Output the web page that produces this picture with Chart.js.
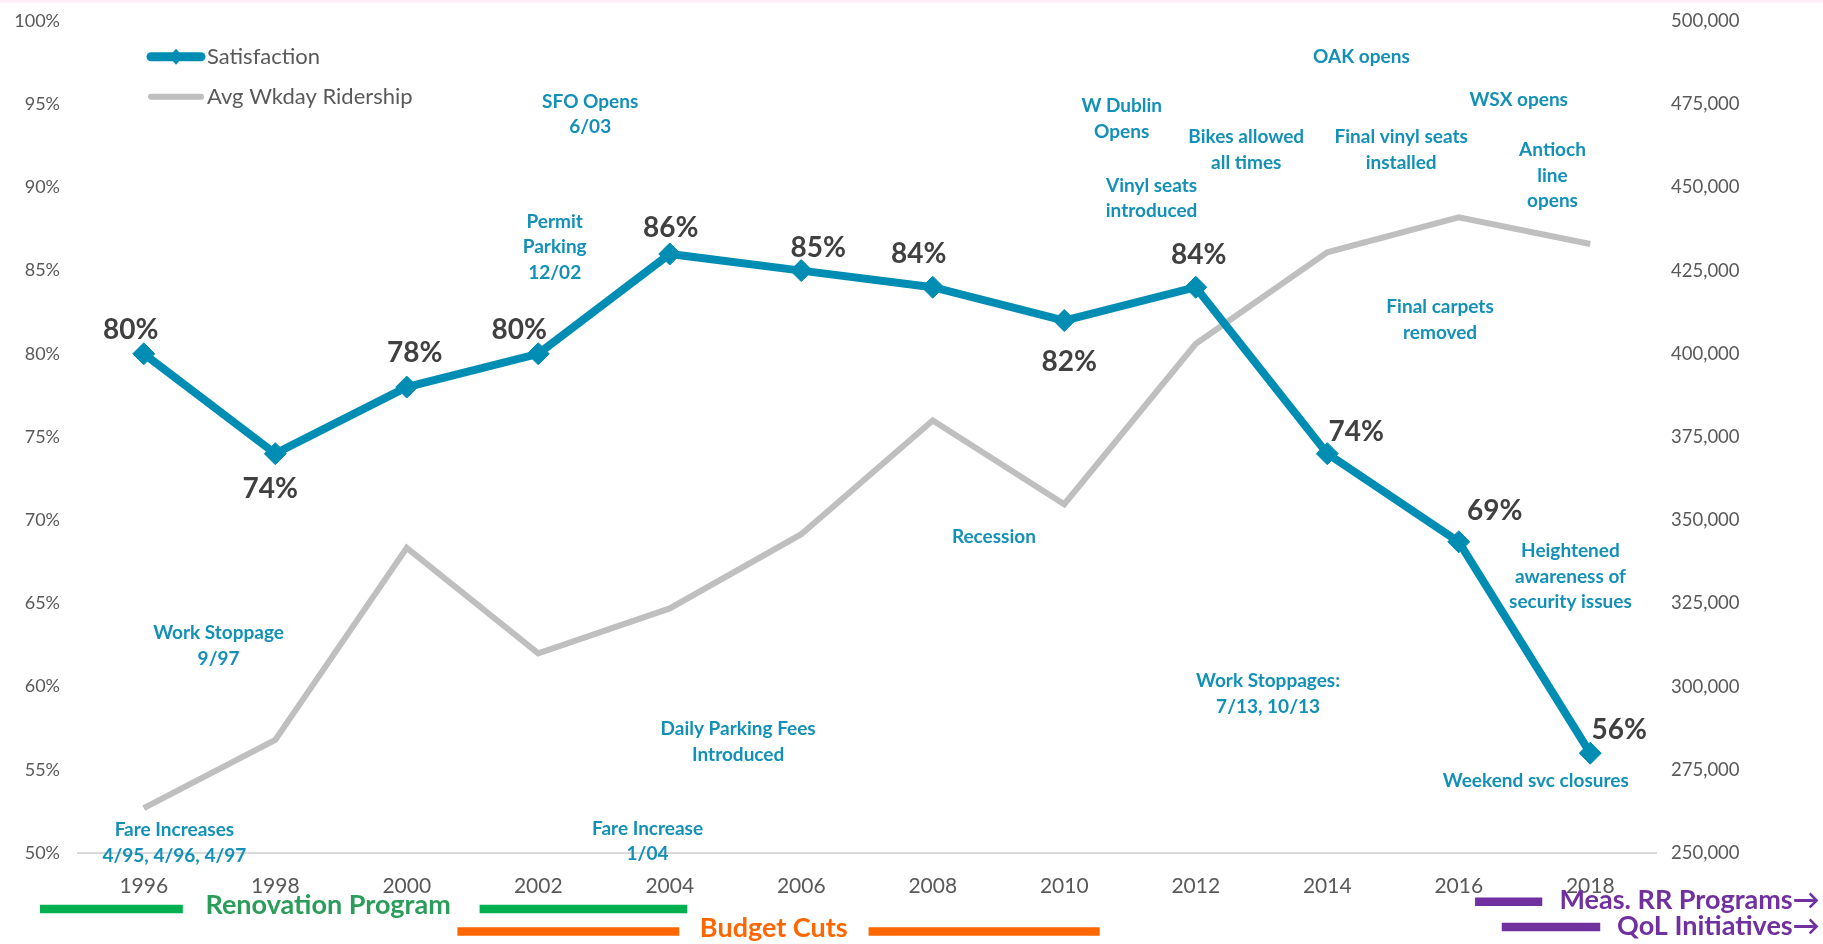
<!DOCTYPE html>
<html>
<head>
<meta charset="utf-8">
<script src="https://cdn.jsdelivr.net/npm/chart.js@4.4.1/dist/chart.umd.min.js"></script>
<style>
  html, body { margin: 0; padding: 0; background: #ffffff; overflow: hidden; }
  #wrap { position: relative; width: 1823px; height: 944px; }
  canvas { display: block; }
</style>
</head>
<body>
<div id="wrap"><canvas id="c" width="1823" height="944"></canvas></div>
<script>
// ---------- DATA ----------
const years = ['1996','1998','2000','2002','2004','2006','2008','2010','2012','2014','2016','2018'];
const satisfaction = [80, 74, 78, 80, 86, 85, 84, 82, 84, 74, 68.7, 56];
const ridership = [263500, 284000, 341700, 310000, 323500, 345800, 380000, 354800, 403000, 430500, 441000, 433000];
const pctTicks = [50, 55, 60, 65, 70, 75, 80, 85, 90, 95, 100];
const riderTicks = [250000, 275000, 300000, 325000, 350000, 375000, 400000, 425000, 450000, 475000, 500000];
const seriesNames = ['Satisfaction', 'Avg Wkday Ridership'];

// event notes: text lines, anchored at (category index, satisfaction %)
const notes = [
  { lines: ['SFO Opens', '6/03'], x: 3.395, y: 95.15 },
  { lines: ['Permit', 'Parking', '12/02'], x: 3.125, y: 87.94 },
  { lines: ['W Dublin', 'Opens'], x: 7.437, y: 94.89 },
  { lines: ['Vinyl seats', 'introduced'], x: 7.664, y: 90.10 },
  { lines: ['Bikes allowed', 'all times'], x: 8.384, y: 93.01 },
  { lines: ['OAK opens'], x: 9.260, y: 97.85 },
  { lines: ['WSX opens'], x: 10.456, y: 95.25 },
  { lines: ['Final vinyl seats', 'installed'], x: 9.562, y: 93.01 },
  { lines: ['Antioch', 'line', 'opens'], x: 10.713, y: 92.25 },
  { lines: ['Final carpets', 'removed'], x: 9.858, y: 82.79 },
  { lines: ['Recession'], x: 6.465, y: 68.97 },
  { lines: ['Daily Parking Fees', 'Introduced'], x: 4.520, y: 57.43 },
  { lines: ['Work Stoppage', '9/97'], x: 0.569, y: 63.20 },
  { lines: ['Fare Increases', '4/95, 4/96, 4/97'], x: 0.233, y: 51.38 },
  { lines: ['Fare Increase', '1/04'], x: 3.831, y: 51.46 },
  { lines: ['Work Stoppages:', '7/13, 10/13'], x: 8.550, y: 60.34 },
  { lines: ['Heightened', 'awareness of', 'security issues'], x: 10.849, y: 68.15 },
  { lines: ['Weekend svc closures'], x: 10.586, y: 54.33 }
];

// program periods drawn under the axis (category index spans)
const programBars = [
  { x0: -0.789, x1: 0.297, row: 56, color: '#00B050' },
  { x0: 2.554, x1: 4.133, row: 56, color: '#00B050' },
  { x0: 2.385, x1: 4.072, row: 78.5, color: '#FF6600' },
  { x0: 5.512, x1: 7.270, row: 78.5, color: '#FF6600' },
  { x0: 10.124, x1: 10.635, row: 48.7, color: '#7030A0' },
  { x0: 10.327, x1: 11.076, row: 74, color: '#7030A0' }
];
const programLabels = [
  { text: 'Renovation Program', x: 1.402, row: 61, align: 'center', color: '#2B9D5A' },
  { text: 'Budget Cuts', x: 4.791, row: 84, align: 'center', color: '#FF6600' },
  { text: 'Meas. RR Programs\u2192', x: 12.745, row: 56.3, align: 'right', color: '#7030A0' },
  { text: 'QoL Initiatives\u2192', x: 12.745, row: 82, align: 'right', color: '#7030A0' }
];

// ---------- STYLE ----------
const FONT = "Lato, 'Open Sans', sans-serif";
const BLUE = '#008DB4';
const GRAY = '#BFBFBF';
const NOTE = '#1390B8';
const TICK = '#595959';
const labelOffsets = [[-13,-24],[-5,35],[8,-34],[-19,-24],[1,-26],[17,-23],[-14,-33],[5,41],[3,-32],[29,-22],[36,-31],[29,-23]];

function catPixel(chart, idx) {
  const xs = chart.scales.x;
  const p0 = xs.getPixelForValue(0), p1 = xs.getPixelForValue(1);
  return p0 + (p1 - p0) * idx;
}

const overlay = {
  id: 'overlay',
  beforeDraw(chart) {
    const ctx = chart.ctx;
    ctx.save();
    ctx.fillStyle = '#FDF0F6';
    ctx.fillRect(0, 0, chart.width, 3);
    ctx.restore();
  },
  beforeDatasetsDraw(chart) {
    const ctx = chart.ctx;
    const ys = chart.scales.y;
    ctx.save();
    ctx.font = "bold 19px " + FONT;
    ctx.fillStyle = NOTE;
    ctx.textAlign = 'center';
    ctx.textBaseline = 'middle';
    notes.forEach(n => {
      const x = catPixel(chart, n.x);
      const y = ys.getPixelForValue(n.y);
      n.lines.forEach((t, i) => ctx.fillText(t, x, y + i * 25.5));
    });
    ctx.restore();
  },
  afterDatasetsDraw(chart) {
    const ctx = chart.ctx;
    const area = chart.chartArea;
    ctx.save();
    // data labels for satisfaction
    const meta = chart.getDatasetMeta(0);
    ctx.font = "bold 28px " + FONT;
    ctx.fillStyle = '#404040';
    ctx.textAlign = 'center';
    ctx.textBaseline = 'middle';
    meta.data.forEach((pt, i) => {
      const v = chart.data.datasets[0].data[i];
      const o = labelOffsets[i];
      ctx.fillText(Math.round(v) + '%', pt.x + o[0], pt.y + o[1]);
    });

    // legend
    const legY = [56.7, 96.7];
    chart.data.datasets.forEach((ds, i) => {
      const y = legY[i];
      ctx.strokeStyle = ds.borderColor;
      ctx.lineWidth = i === 0 ? 9 : 6;
      ctx.lineCap = 'round';
      ctx.beginPath();
      ctx.moveTo(151, y);
      ctx.lineTo(201, y);
      ctx.stroke();
      if (i === 0) {
        ctx.fillStyle = ds.borderColor;
        ctx.beginPath();
        ctx.moveTo(176, y - 8); ctx.lineTo(183, y); ctx.lineTo(176, y + 8); ctx.lineTo(169, y);
        ctx.closePath(); ctx.fill();
      }
      ctx.font = "22px " + FONT;
      ctx.fillStyle = TICK;
      ctx.textAlign = 'left';
      ctx.textBaseline = 'middle';
      ctx.fillText(ds.label, 207, y);
    });

    // program bars and labels below the axis
    ctx.lineCap = 'butt';
    programBars.forEach(b => {
      ctx.strokeStyle = b.color;
      ctx.lineWidth = 8.5;
      ctx.beginPath();
      const y = area.bottom + b.row;
      ctx.moveTo(catPixel(chart, b.x0), y);
      ctx.lineTo(catPixel(chart, b.x1), y);
      ctx.stroke();
    });
    ctx.font = "bold 27px " + FONT;
    ctx.textBaseline = 'alphabetic';
    programLabels.forEach(l => {
      ctx.fillStyle = l.color;
      ctx.textAlign = l.align;
      ctx.fillText(l.text, catPixel(chart, l.x), area.bottom + l.row);
    });
    ctx.restore();
  }
};

function fixY(width) {
  return s => { s.width = width; s.paddingTop = 0; s.paddingBottom = 0; };
}

new Chart(document.getElementById('c'), {
  type: 'line',
  data: {
    labels: years,
    datasets: [
      {
        label: seriesNames[0],
        data: satisfaction,
        yAxisID: 'y',
        borderColor: BLUE,
        backgroundColor: BLUE,
        borderWidth: 8,
        pointStyle: 'rectRot',
        pointRadius: 11,
        pointHoverRadius: 11,
        pointBackgroundColor: BLUE,
        pointBorderColor: BLUE,
        pointBorderWidth: 1,
        tension: 0,
        order: 0
      },
      {
        label: seriesNames[1],
        data: ridership,
        yAxisID: 'y1',
        borderColor: GRAY,
        backgroundColor: GRAY,
        borderWidth: 6,
        pointRadius: 0,
        pointHoverRadius: 0,
        tension: 0,
        order: 1
      }
    ]
  },
  options: {
    responsive: false,
    animation: false,
    devicePixelRatio: 1,
    layout: { padding: { top: 21, left: 0, right: 0, bottom: 0 } },
    plugins: { legend: { display: false }, tooltip: { enabled: false } },
    scales: {
      x: {
        offset: true,
        grid: { display: false, drawTicks: false },
        border: { display: true, color: '#D9D9D9', width: 2 },
        ticks: { color: TICK, font: { family: FONT, size: 21 }, padding: 21, maxRotation: 0 },
        afterFit: s => { s.height = 91; s.paddingLeft = 0; s.paddingRight = 0; }
      },
      y: {
        position: 'left',
        min: 50, max: 100,
        grid: { display: false, drawTicks: false },
        border: { display: false },
        afterBuildTicks: s => { s.ticks = pctTicks.map(v => ({ value: v })); },
        ticks: { color: TICK, font: { family: FONT, size: 18 }, padding: 18, callback: v => v + '%' },
        afterFit: fixY(78)
      },
      y1: {
        position: 'right',
        min: 250000, max: 500000,
        grid: { display: false, drawTicks: false },
        border: { display: false },
        afterBuildTicks: s => { s.ticks = riderTicks.map(v => ({ value: v })); },
        ticks: { color: TICK, font: { family: FONT, size: 18.5 }, padding: 15, callback: v => v.toLocaleString('en-US') },
        afterFit: fixY(167)
      }
    }
  },
  plugins: [overlay]
});
</script>
</body>
</html>
